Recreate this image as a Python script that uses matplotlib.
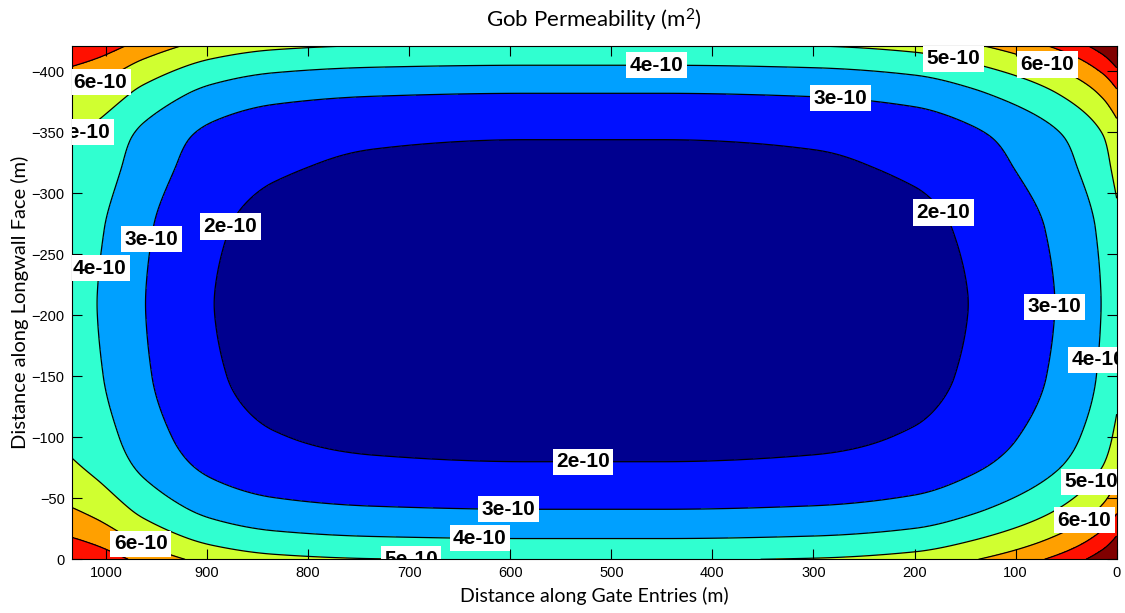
import numpy as np
import matplotlib
matplotlib.use("Agg")
import matplotlib.pyplot as plt

# Panel extent (m)
panel_length = 1034.0   # along gate entries
panel_width = 421.0     # along longwall face

# Centre-of-gob permeability (units of 1e-10 m^2)
k_centre = 1.2

# Excess permeability vs. distance from each panel edge (units of 1e-10 m^2)
dist_start = [0, 14, 59, 144, 200, 300, 450]          # from x = 0 (right)
exc_start = [3.3, 2.72, 1.72, 0.72, 0.32, 0.08, 0.0]
dist_end = [0, 24, 72, 139, 200, 300, 450]            # from x = panel_length (left)
exc_end = [3.05, 2.72, 1.72, 0.72, 0.3, 0.08, 0.0]
dist_tail = [0, 16, 39, 77, 100, 150, 220, 320]       # from y = -panel_width (top)
exc_tail = [3.7, 2.8, 1.8, 0.8, 0.6, 0.22, 0.04, 0.0]
dist_head = [0, 17, 41, 80, 100, 150, 220, 320]       # from y = 0 (bottom)
exc_head = [3.75, 2.8, 1.8, 0.8, 0.55, 0.2, 0.04, 0.0]

# Interaction of the x = 0 edge with the two gate-side edges
corner_gain_start = 0.09

levels = [2e-10, 3e-10, 4e-10, 5e-10, 6e-10, 7e-10, 8e-10]
band_colors = ["#00008F", "#0010FF", "#00A0FF", "#30FFD0",
               "#D0FF30", "#FFA000", "#FF1000", "#800000"]

x_ticks = [1000, 900, 800, 700, 600, 500, 400, 300, 200, 100, 0]
y_ticks = [0, -50, -100, -150, -200, -250, -300, -350, -400]

# Contour labels: (level, approximate x, approximate y)
label_spots = [
    (6e-10, 1008, -395), (5e-10, 1022, -350), (4e-10, 455, -403),
    (5e-10, 161, -411), (6e-10, 69, -405), (3e-10, 273, -379),
    (2e-10, 887, -276), (2e-10, 162, -290), (3e-10, 960, -263),
    (4e-10, 1012, -239), (3e-10, 60, -207), (4e-10, 12, -163),
    (2e-10, 528, -80), (5e-10, 23, -62), (3e-10, 602, -40),
    (6e-10, 31, -31), (4e-10, 630, -18), (6e-10, 966, -12),
    (5e-10, 689, -3),
]


def monotone_profile(xk, yk, xq):
    """Shape-preserving (Fritsch-Carlson) cubic through the tabulated points."""
    xk = np.asarray(xk, float)
    yk = np.asarray(yk, float)
    h = np.diff(xk)
    delta = np.diff(yk) / h
    d = np.zeros_like(yk)
    for k in range(1, len(xk) - 1):
        if delta[k - 1] * delta[k] > 0:
            w1 = 2 * h[k] + h[k - 1]
            w2 = h[k] + 2 * h[k - 1]
            d[k] = (w1 + w2) / (w1 / delta[k - 1] + w2 / delta[k])
    d0 = ((2 * h[0] + h[1]) * delta[0] - h[0] * delta[1]) / (h[0] + h[1])
    d[0] = d0 if d0 * delta[0] > 0 else 0.0
    d[-1] = 0.0
    xq = np.clip(np.asarray(xq, float), xk[0], xk[-1])
    i = np.clip(np.searchsorted(xk, xq) - 1, 0, len(xk) - 2)
    t = (xq - xk[i]) / h[i]
    h00 = 2 * t**3 - 3 * t**2 + 1
    h10 = t**3 - 2 * t**2 + t
    h01 = -2 * t**3 + 3 * t**2
    h11 = t**3 - t**2
    return (h00 * yk[i] + h10 * h[i] * d[i]
            + h01 * yk[i + 1] + h11 * h[i] * d[i + 1])


# Build the permeability field on a regular grid
x = np.linspace(0, panel_length, 620)
y = np.linspace(-panel_width, 0, 300)
X, Y = np.meshgrid(x, y)
f_start = monotone_profile(dist_start, exc_start, X)
f_end = monotone_profile(dist_end, exc_end, panel_length - X)
f_tail = monotone_profile(dist_tail, exc_tail, Y + panel_width)
f_head = monotone_profile(dist_head, exc_head, -Y)
K = (k_centre + f_start + f_end + f_tail + f_head
     + corner_gain_start * f_start * (f_tail + f_head)) * 1e-10

plt.rcParams["mathtext.fontset"] = "custom"
plt.rcParams["mathtext.rm"] = "Lato"
plt.rcParams["mathtext.it"] = "Lato:italic"

fig = plt.figure(figsize=(11.25, 6.13), dpi=100)
ax = fig.add_axes([0.0637, 0.0876, 0.9289, 0.8378])

ax.contourf(X, Y, K, levels=levels, colors=band_colors, extend="both")
ax.contour(X, Y, K, levels=levels, colors="k", linewidths=0.9)

# One invisible contour set per labelled level, so each label sits on its own line
level_sets = {}
label_texts = []
for lev, lx, ly in label_spots:
    if lev not in level_sets:
        level_sets[lev] = ax.contour(X, Y, K, levels=[lev], colors="none")
    cs_l = level_sets[lev]
    n0 = len(cs_l.labelTexts) if hasattr(cs_l, "labelTexts") else 0
    cs_l.clabel(manual=[(lx, ly)], inline=False, fmt="%.0e", fontsize=15)
    label_texts.extend(cs_l.labelTexts[n0:])

for t in label_texts:
    t.set_rotation(0)
    t.set_fontweight("bold")
    t.set_fontfamily("Liberation Sans")
    t.set_color("black")
    t.set_bbox(dict(boxstyle="square,pad=0.17", fc="white", ec="none"))
    t.set_clip_on(True)
    t.set_clip_box(ax.bbox)

ax.set_xlim(panel_length, 0)
ax.set_ylim(0, -panel_width)
ax.set_xticks(x_ticks)
ax.set_yticks(y_ticks)
ax.tick_params(direction="in", length=7.5, width=0.8, top=True, right=True,
               labelsize=10.5, pad=5, colors="black")
for lab in ax.get_xticklabels() + ax.get_yticklabels():
    lab.set_fontfamily("Liberation Sans")
for sp in ax.spines.values():
    sp.set_linewidth(0.8)

ax.set_title("Gob Permeability (m$^{\\mathrm{2}}$)", fontsize=16,
             fontfamily="Lato", pad=13)
ax.set_xlabel("Distance along Gate Entries (m)", fontsize=14,
              fontfamily="Lato", labelpad=5)
ax.set_ylabel("Distance along Longwall Face (m)", fontsize=14.5,
              fontfamily="Lato", labelpad=2)

fig.savefig("out.png", dpi=100)
